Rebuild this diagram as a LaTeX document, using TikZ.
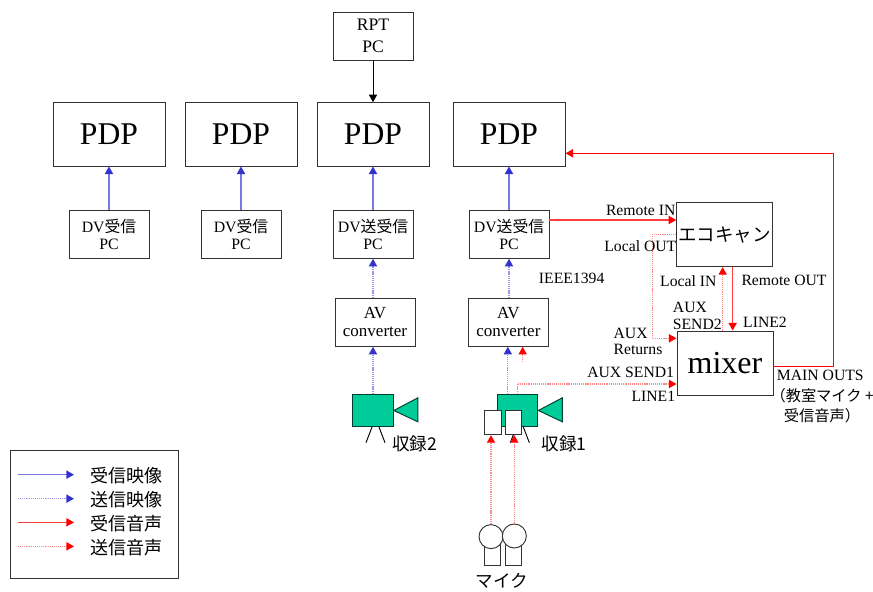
\documentclass[tikz,border=0pt]{standalone}
\usepackage{fontspec}
\setmainfont{Liberation Serif}
\newfontfamily\jp{Noto Sans CJK JP}
\usetikzlibrary{arrows.meta,positioning,calc}
\definecolor{sigblue}{RGB}{51,51,204}
\definecolor{sigred}{RGB}{255,0,0}
\definecolor{camgreen}{RGB}{0,204,153}
\definecolor{boxgray}{RGB}{50,50,50}

\begin{document}
\begin{tikzpicture}[
    pdp/.style={draw=boxgray,line width=0.8pt,fill=white,inner sep=0pt,
      minimum width=3.36cm,minimum height=1.90cm,align=center,font=\fontsize{27}{30}\selectfont},
    pcbox/.style={draw=boxgray,line width=0.8pt,fill=white,inner sep=0pt,
      minimum width=2.40cm,minimum height=1.44cm,align=center,font=\fontsize{13.5}{15.2}\selectfont},
    bigbox/.style={draw=boxgray,line width=0.8pt,fill=white,inner sep=0pt,
      minimum width=2.88cm,minimum height=1.92cm,align=center},
    plug/.style={draw=boxgray,line width=0.8pt,fill=white,inner sep=0pt,minimum width=0.49cm,minimum height=0.74cm},
    micbody/.style={draw=boxgray,line width=0.8pt,fill=white,inner sep=0pt,minimum width=0.49cm,minimum height=0.66cm},
    michead/.style={circle,draw=boxgray,line width=0.8pt,fill=white,inner sep=0pt,minimum size=0.72cm},
    cam/.style={draw=black!70!camgreen,line width=0.8pt,fill=camgreen,inner sep=0pt,minimum width=1.22cm,minimum height=0.97cm},
    lens/.style={draw=black!70!camgreen,line width=0.8pt,fill=camgreen},
    lbl/.style={inner sep=0pt,align=left,font=\fontsize{13.4}{14}\selectfont},
    jplbl/.style={inner sep=0pt,align=center,font=\jp\fontsize{13}{17}\selectfont},
    rectxt/.style={inner sep=0pt,font=\jp\fontsize{15}{17}\selectfont},
    rxvideo/.style={-{Triangle[length=6.5pt,width=7pt,color=sigblue]},draw=sigblue!65,line width=1.1pt},
    txvideo/.style={-{Triangle[length=6.5pt,width=7pt,color=sigblue]},draw=sigblue!50,line width=1.1pt,dash pattern=on 1pt off 0.8pt},
    rxaudio/.style={-{Triangle[length=6.5pt,width=7pt,color=sigred]},draw=sigred!75,line width=1.1pt},
    txaudio/.style={-{Triangle[length=6.5pt,width=7pt,color=sigred]},draw=sigred!45,line width=1.1pt,dash pattern=on 1pt off 0.8pt}
  ]
    \useasboundingbox (0,0) rectangle (26.19,17.76);

    \node[pcbox,font=\fontsize{15}{18.8}\selectfont] (rpt) at (11.19,16.68) {RPT\\PC};

    \node[pdp] (pdp1) at (3.27,13.73) {PDP};
    \node[pdp] (pdp2) at (7.23,13.73) {PDP};
    \node[pdp] (pdp3) at (11.19,13.73) {PDP};
    \node[pdp] (pdp4) at (15.27,13.73) {PDP};

    \node[pcbox] (dv1) at (3.27,10.73) {DV{\jp 受信}\\PC};
    \node[pcbox] (dv2) at (7.23,10.73) {DV{\jp 受信}\\PC};
    \node[pcbox] (dv3) at (11.19,10.73) {DV{\jp 送受信}\\PC};
    \node[pcbox] (dv4) at (15.27,10.73) {DV{\jp 送受信}\\PC};

    \node[pcbox,font=\fontsize{14.5}{15.5}\selectfont] (av3) at (11.25,8.09) {AV\\converter};
    \node[pcbox,font=\fontsize{14.5}{15.5}\selectfont] (av4) at (15.25,8.09) {AV\\converter};

    \node[bigbox,font=\jp\fontsize{15.8}{18}\selectfont] (echo) at (21.74,10.72) {エコキャン};
    \node[bigbox,font=\fontsize{27.3}{30}\selectfont] (mixer) at (21.75,6.87) {mixer};

    \draw[line width=0.8pt] (11.18,5.00) -- (10.98,4.48) (11.35,5.00) -- (11.55,4.48);
    \draw[line width=0.8pt] (15.51,5.00) -- (15.31,4.48) (15.68,5.00) -- (15.88,4.48);
    \node[cam] (cam2) at (11.19,5.445) {};
    \node[cam] (cam1) at (15.525,5.445) {};
    \draw[lens] (cam2.east) -- ++(0.72,0.38) -- ++(0,-0.72) -- cycle;
    \draw[lens] (cam1.east) -- ++(0.72,0.38) -- ++(0,-0.72) -- cycle;

    \node[plug] (plug1) at (14.785,5.09) {};
    \node[plug] (plug2) at (15.405,5.09) {};

    \node[micbody] (body1) at (14.77,1.13) {};
    \node[micbody] (body2) at (15.40,1.13) {};
    \node[michead] (mic1) at (14.73,1.66) {};
    \node[michead] (mic2) at (15.43,1.68) {};

    \coordinate (tapout) at (15.68,6.90);
    \coordinate (mainbend) at (25.01,13.16);

    \draw[-{Triangle[length=6.5pt,width=7pt]},line width=0.8pt,black] (rpt) -- (pdp3);
    \draw[rxvideo] (dv1) -- (pdp1);
    \draw[rxvideo] (dv2) -- (pdp2);
    \draw[rxvideo] (dv3) -- (pdp3);
    \draw[rxvideo] (dv4.north) -- (dv4.north |- pdp4.south);

    \draw[txvideo] (dv3.south |- av3.north) -- (dv3.south);
    \draw[txvideo] (dv4.south |- av4.north) -- (dv4.south);
    \draw[txvideo] (cam2.north) -- (cam2.north |- av3.south);
    \draw[txvideo] ($(cam1.north)+(-0.29,0)$) -- ($(cam1.north |- av4.south)+(-0.29,0)$);

    \draw[rxaudio] ([yshift=0.43cm]dv4.east) -- ([yshift=0.43cm]dv4.east -| echo.west);
    \draw[txaudio] ([yshift=0.01cm]echo.west) -- ++(-0.72,0) |- ([yshift=0.74cm]mixer.west);
    \draw[txaudio] ([xshift=-0.07cm]mixer.north) -- ([xshift=-0.07cm]mixer.north |- echo.south);
    \draw[rxaudio] ([xshift=0.24cm]echo.south) -- ([xshift=0.24cm]echo.south |- mixer.north);
    \draw[txaudio] ($(cam1.north)+(-0.01,0)$) |- ($(mixer.west)+(0,-0.63)$);
    \draw[txaudio] (tapout) -- (tapout |- av4.south);
    \draw[-{Triangle[length=6.5pt,width=7pt]},sigred,line width=1.1pt] ([yshift=-0.10cm]mixer.east) -| (mainbend) -- (mainbend -| pdp4.east);

    \draw[txaudio] (mic1.north) -- (mic1.north |- plug1.south);
    \draw[txaudio] (mic2.north) -- (mic2.north |- plug2.south);

    \node[lbl] (remotein) at (19.22,11.46) {Remote IN};
    \node[lbl] (localout) at (19.21,10.39) {Local OUT};
    \node[lbl] (localin) at (20.65,9.34) {Local IN};
    \node[lbl] (remoteout) at (23.52,9.36) {Remote OUT};
    \node[lbl] (ieee) at (17.15,9.42) {IEEE1394};
    \node[lbl] (send2) at (20.92,8.28) {AUX\\SEND2};
    \node[lbl] (line2) at (22.95,8.09) {LINE2};
    \node[lbl] (returns) at (19.14,7.51) {AUX\\Returns};
    \node[lbl] (send1) at (18.92,6.58) {AUX SEND1};
    \node[lbl] (line1) at (19.60,5.86) {LINE1};
    \node[lbl] (mainouts) at (24.61,6.49) {MAIN OUTS};
    \node[jplbl] (mainnote) at (24.66,5.59) {（教室マイク +\\受信音声）};

    \node[rectxt] (rec2) at (12.44,4.46) {収録2};
    \node[rectxt] (rec1) at (16.92,4.46) {収録1};
    \node[rectxt] (miclbl) at (15.06,0.33) {マイク};

    \node[draw=boxgray,line width=0.8pt,inner sep=0pt,minimum width=5.05cm,minimum height=3.83cm] (legend) at (2.835,2.325) {};
    \foreach \i/\sty/\ypos/\txt in {1/rxvideo/3.52/受信映像,2/txvideo/2.80/送信映像,3/rxaudio/2.09/受信音声,4/txaudio/1.37/送信音声}{
      \coordinate (from\i) at (0.54,\ypos);
      \coordinate (to\i) at (2.22,\ypos);
      \draw[\sty] (from\i) -- (to\i);
      \node[jplbl,anchor=west,font=\jp\fontsize{15.4}{18}\selectfont] (key\i) at (2.70,\ypos-0.04) {\txt};
    }
  \end{tikzpicture}
\end{document}
